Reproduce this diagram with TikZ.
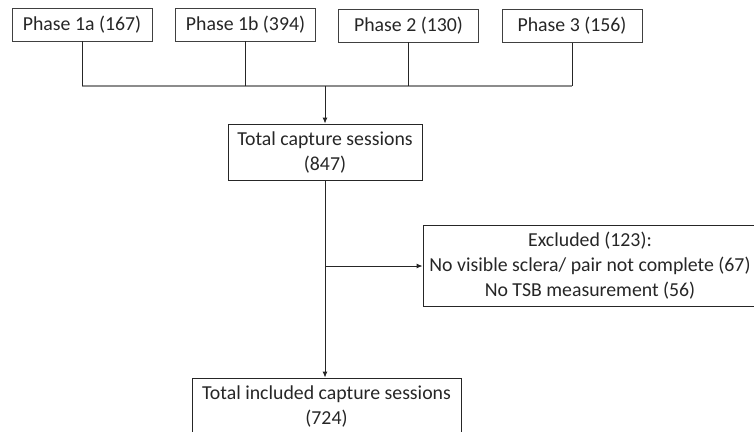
\documentclass[tikz,border=0pt]{standalone}
\usepackage{fontspec}
\setmainfont{Carlito}
\usetikzlibrary{arrows.meta, positioning}

\begin{document}
\begin{tikzpicture}[
    x=1pt, y=-1pt, % Pixel-like units, y going down
    >={Latex[length=6pt, width=5pt]}, % Set default arrow tip style
    phasebox/.style={draw=black!75, line width=0.9pt, minimum width=140pt,
     minimum height=33pt, inner sep=0pt}, % Style for phase boxes
    countbox/.style={draw=black!85, line width=0.9pt, align=center,
     inner sep=0pt}, % Style for count boxes
    link/.style={draw=black!85, line width=0.9pt}, % Base style for connectors
    bus/.style={draw=black!45, line width=1.4pt}, % Style for collecting line
    every node/.style={font=\fontsize{19.8}{25}\selectfont, text=black!85}
]

    % Canvas
    \useasboundingbox (0,0) rectangle (754,431);

    % Phase boxes
    \node[phasebox] (p1a) at (82, 24.5) {Phase 1a (167)};
    \node[phasebox] (p1b) at (245.5, 24.5) {Phase 1b (394)};
    \node[phasebox] (p2) at (408.5, 25.5) {Phase 2 (130)};
    \node[phasebox] (p3) at (572, 26) {Phase 3 (156)};

    % Count boxes
    \node[countbox, minimum width=194pt, minimum height=56pt] (total) at (325, 152)
        {Total capture sessions\\(847)};
    \node[countbox, minimum width=334pt, minimum height=81pt] (excl) at (590, 265.5)
        {Excluded (123):\\No visible sclera/ pair not complete (67)\\No TSB measurement (56)};
    \node[countbox, minimum width=269pt, minimum height=56pt] (incl) at (326.5, 406)
        {Total included capture sessions\\(724)};

    % Collecting line
    \coordinate (join) at (325, 86);
    \coordinate (split) at (325, 266);
    \draw[bus] (p1a.south |- join) -- (p3.south |- join);
    \foreach \p in {p1a, p1b, p2, p3}
        \draw[link] (\p.south) -- (\p.south |- join);

    % Flow arrows
    \draw[link, ->] (join) -- (total.north);
    \draw[link, ->] (total.south) -- (total.south |- incl.north);
    \draw[link, ->] (split) -- (excl.west |- split);

\end{tikzpicture}
\end{document}
